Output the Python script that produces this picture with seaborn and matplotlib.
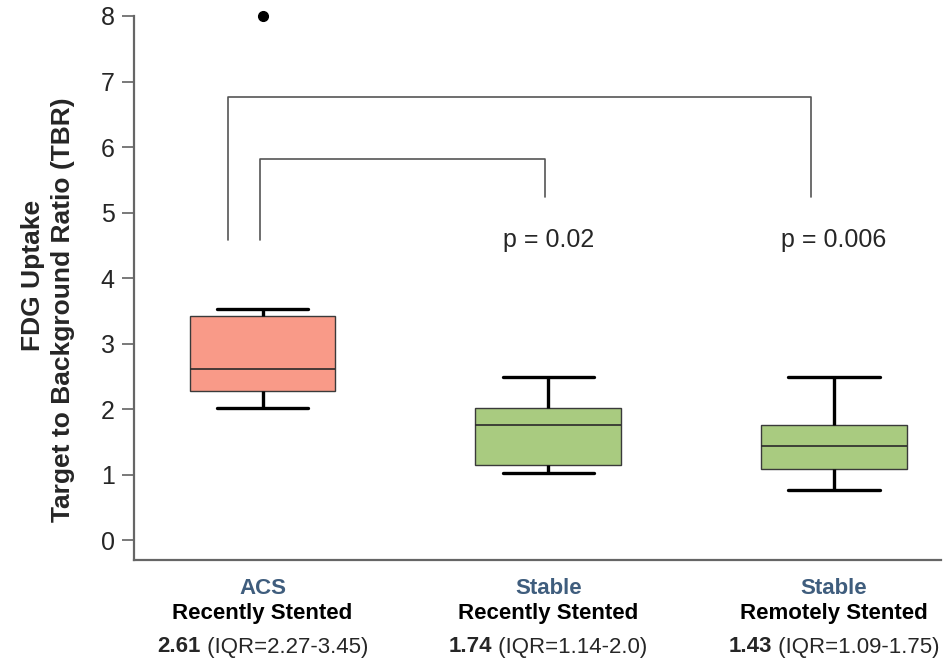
import numpy as np
import pandas as pd
import matplotlib
matplotlib.use("Agg")
import matplotlib.pyplot as plt
import matplotlib.transforms as mtransforms
import seaborn as sns

# values (whisker ends, quartiles, median, outlier)
groups = ["ACS", "Stable recent", "Stable remote"]
acs_vals = [2.01, 2.28, 2.28, 2.61, 2.61, 3.42, 3.42, 3.53, 8.0]
stable_recent_vals = [1.03, 1.14, 1.14, 1.75, 2.02, 2.02, 2.49]
stable_remote_vals = [0.76, 1.08, 1.08, 1.43, 1.75, 1.75, 2.49]

group_top = ["ACS", "Stable", "Stable"]
group_mid = ["Recently Stented", "Recently Stented", "Remotely Stented"]
median_txt = ["2.61", "1.74", "1.43"]
iqr_txt = [" (IQR=2.27-3.45)", " (IQR=1.14-2.0)", " (IQR=1.09-1.75)"]
p_values = ["p = 0.02", "p = 0.006"]

box_colors = ["#F99A88", "#A9CB80"]
label_blue = "#3F5D7D"

df = pd.DataFrame({
    "group": [groups[0]] * len(acs_vals) + [groups[1]] * len(stable_recent_vals)
             + [groups[2]] * len(stable_remote_vals),
    "tbr": acs_vals + stable_recent_vals + stable_remote_vals,
})

sns.set_style("white")
plt.rcParams["font.family"] = ["Liberation Sans", "DejaVu Sans"]

fig = plt.figure(figsize=(9.51, 6.62), dpi=100)
ax = fig.add_axes([134 / 951, 1 - 560 / 662, 807 / 951, (560 - 16) / 662])

sns.boxplot(
    data=df, x="group", y="tbr", hue="group",
    palette=[box_colors[0], box_colors[1], box_colors[1]],
    order=groups, width=0.51, ax=ax, legend=False, saturation=1,
    capwidths=0.32,
    boxprops=dict(edgecolor="#3a3a3a", linewidth=1.0),
    medianprops=dict(color="#2a2a2a", linewidth=1.2),
    whiskerprops=dict(color="black", linewidth=2.4),
    capprops=dict(color="black", linewidth=2.4),
    flierprops=dict(marker="o", markerfacecolor="black", markeredgecolor="black",
                    markersize=7),
)
for ln in ax.lines:
    ln.set_clip_on(False)

ax.set_xlim(-0.45, 2.375)
ax.set_ylim(-0.305, 8.0)
ax.set_yticks(range(0, 9))
ax.set_yticklabels([str(i) for i in range(0, 9)], fontsize=18)
ax.tick_params(axis="y", left=True, length=9, width=1.1, color="#555555", pad=5)
ax.set_xticks([])
ax.set_xlabel("")
ax.set_ylabel("")
for s in ["top", "right"]:
    ax.spines[s].set_visible(False)
for s in ["left", "bottom"]:
    ax.spines[s].set_color("#666666")
    ax.spines[s].set_linewidth(1.6)

# y axis title, two lines
fig.text(33 / 951, 1 - 275 / 662, "FDG Uptake", rotation=90, ha="center",
         va="center", fontsize=19, fontweight="bold")
fig.text(63 / 951, 1 - 310 / 662, "Target to Background Ratio (TBR)", rotation=90,
         ha="center", va="center", fontsize=19, fontweight="bold")

# significance brackets
br = dict(color="#555555", linewidth=1.2)
ax.plot([-0.12, -0.12, 1.92, 1.92], [4.58, 6.76, 6.76, 5.23], **br)
ax.plot([-0.01, -0.01, 0.99, 0.99], [4.58, 5.82, 5.82, 5.23], **br)
for i, p in enumerate(p_values):
    ax.text(i + 1, 4.58, p, ha="center", va="center", fontsize=18)

# category labels under the axis
trans = mtransforms.blended_transform_factory(ax.transData, fig.transFigure)
for i in range(len(groups)):
    ax.text(i, 1 - 588 / 662, group_top[i], transform=trans, ha="center",
            va="center", fontsize=16, fontweight="bold", color=label_blue)
    ax.text(i, 1 - 613 / 662, group_mid[i], transform=trans, ha="center",
            va="center", fontsize=16, fontweight="bold", color="black")

fig.canvas.draw()
r = fig.canvas.get_renderer()
for i in range(len(groups)):
    t1 = ax.text(i, 1 - 647 / 662, median_txt[i], transform=trans, ha="left",
                 va="center", fontsize=16, fontweight="bold")
    t2 = ax.text(i, 1 - 647 / 662, iqr_txt[i], transform=trans, ha="left",
                 va="center", fontsize=16)
    w1 = t1.get_window_extent(r).width
    w2 = t2.get_window_extent(r).width
    tot = w1 + w2
    t1.set_transform(mtransforms.offset_copy(trans, fig, x=-tot / 2, units="dots"))
    t2.set_transform(mtransforms.offset_copy(trans, fig, x=-tot / 2 + w1, units="dots"))

fig.savefig("out.png", dpi=100)
